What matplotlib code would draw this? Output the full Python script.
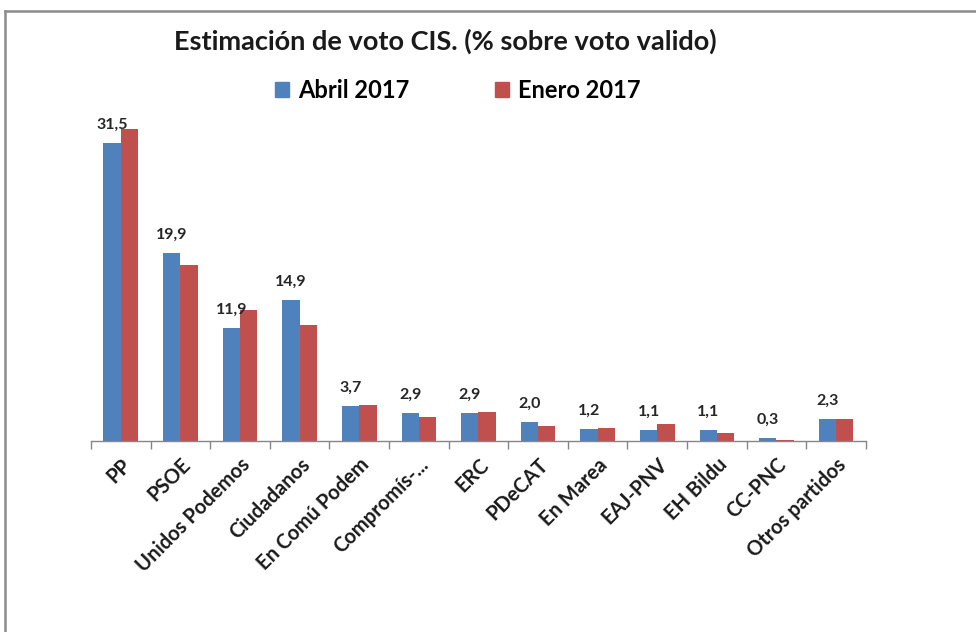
import matplotlib.pyplot as plt
import numpy as np
from matplotlib.lines import Line2D
from matplotlib.patches import Patch

plt.rcParams['font.family'] = ['Lato', 'DejaVu Sans']

partidos = ['PP', 'PSOE', 'Unidos Podemos', 'Ciudadanos', 'En Comú Podem',
            'Compromís-...', 'ERC', 'PDeCAT', 'En Marea', 'EAJ-PNV',
            'EH Bildu', 'CC-PNC', 'Otros partidos']
abril = [31.5, 19.9, 11.9, 14.9, 3.7, 2.9, 2.9, 2.0, 1.2, 1.1, 1.1, 0.3, 2.3]
enero = [33.0, 18.6, 13.8, 12.3, 3.8, 2.5, 3.0, 1.6, 1.3, 1.8, 0.8, 0.1, 2.3]

azul = '#4F81BD'
rojo = '#C0504D'
gris = '#868686'

fig = plt.figure(figsize=(9.76, 6.32), dpi=100)
ax = fig.add_axes([0.0932, 0.3027, 0.794, 0.5228])

x = np.arange(len(partidos))
w = 0.29
ax.bar(x - w / 2, abril, w, color=azul, label='Abril 2017')
ax.bar(x + w / 2, enero, w, color=rojo, label='Enero 2017')

# etiquetas solo para abril
for xi, v in zip(x, abril):
    ax.annotate(f'{v:.1f}'.replace('.', ','), (xi - w / 2, v), xytext=(0, 8),
                textcoords='offset points', ha='center', va='bottom',
                fontsize=11.5, fontweight='bold', color='#262626')

ax.set_xlim(-0.5, len(partidos) - 0.5)
ax.set_ylim(0, 35)
ax.set_yticks([])
for s in ['top', 'right', 'left']:
    ax.spines[s].set_visible(False)
ax.spines['bottom'].set_color(gris)
ax.spines['bottom'].set_linewidth(1)

# ticks en los limites de categoria
ax.set_xticks(np.arange(len(partidos) + 1) - 0.5, minor=True)
ax.tick_params(axis='x', which='minor', length=6, color=gris, width=1)
ax.set_xticks(x)
ax.tick_params(axis='x', which='major', length=0, pad=10)
ax.set_xticklabels(partidos, rotation=45, ha='right', va='top',
                   rotation_mode='anchor', fontsize=14.5, fontweight='bold',
                   color='#1a1a1a')

fig.text(0.456, 0.934, 'Estimación de voto CIS. (% sobre voto valido)',
         ha='center', va='center', fontsize=19.5, fontweight='bold', color='#1a1a1a')

handles = [Patch(color=azul), Patch(color=rojo)]
fig.legend(handles, ['Abril 2017', 'Enero 2017'], loc='center',
           bbox_to_anchor=(0.469, 0.857), ncol=2, frameon=False,
           prop={'size': 17, 'weight': 'bold'}, handlelength=0.6,
           handleheight=0.6, handletextpad=0.4, columnspacing=3.6)

# marco gris
fig.add_artist(Line2D([5 / 976, 1], [1 - 11 / 632, 1 - 11 / 632],
                      transform=fig.transFigure, color='#8c8c8c', lw=1.8))
fig.add_artist(Line2D([5 / 976, 5 / 976], [0, 1 - 11 / 632],
                      transform=fig.transFigure, color='#8c8c8c', lw=1.8))

fig.savefig('out.png', dpi=100)
